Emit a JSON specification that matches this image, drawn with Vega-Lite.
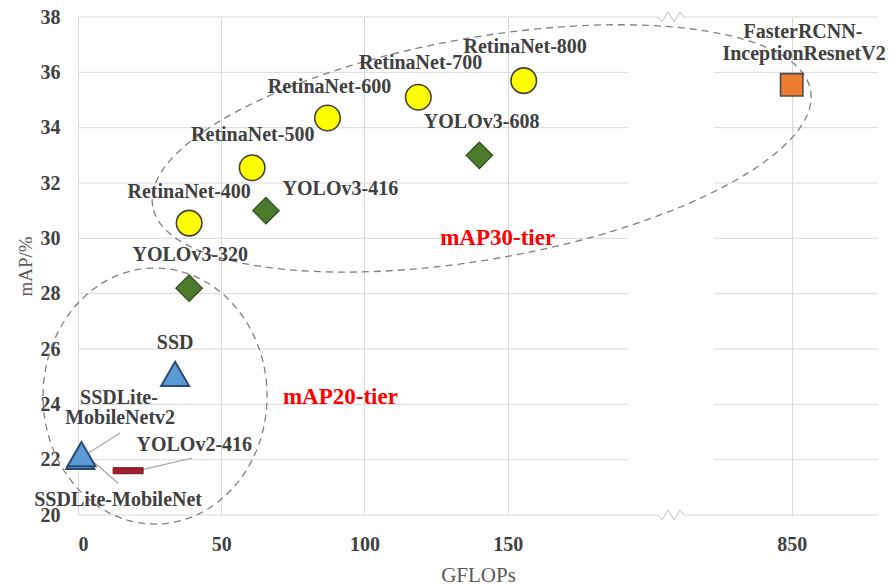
{
  "$schema": "https://vega.github.io/schema/vega-lite/v6.json",
  "width": 800,
  "height": 498,
  "autosize": {"type": "none"},
  "padding": {"left": 78, "top": 17, "right": 11, "bottom": 70},
  "background": "white",
  "config": {"view": {"stroke": null}},
  "datasets": {
    "points": [
      {"model": "RetinaNet-400", "family": "RetinaNet", "gflops": 38.8, "map": 30.55},
      {"model": "RetinaNet-500", "family": "RetinaNet", "gflops": 60.8, "map": 32.55},
      {"model": "RetinaNet-600", "family": "RetinaNet", "gflops": 87.1, "map": 34.35},
      {"model": "RetinaNet-700", "family": "RetinaNet", "gflops": 118.8, "map": 35.1},
      {"model": "RetinaNet-800", "family": "RetinaNet", "gflops": 155.6, "map": 35.7},
      {"model": "YOLOv3-320", "family": "YOLOv3", "gflops": 38.8, "map": 28.2},
      {"model": "YOLOv3-416", "family": "YOLOv3", "gflops": 65.6, "map": 31.0},
      {"model": "YOLOv3-608", "family": "YOLOv3", "gflops": 140.1, "map": 33.0},
      {"model": "SSD", "family": "SSD", "gflops": 33.9, "map": 25.1},
      {"model": "SSDLite-MobileNetv2", "family": "SSD", "gflops": 0.8, "map": 22.1},
      {"model": "SSDLite-MobileNet", "family": "SSD", "gflops": 1.2, "map": 22.2},
      {"model": "YOLOv2-416", "family": "YOLOv2", "gflops": 17.5, "map": 21.6},
      {"model": "FasterRCNN-InceptionResnetV2", "family": "FasterRCNN", "gflops": 850, "map": 35.55}
    ],
    "labels": [
      {"text": "RetinaNet-400", "kind": "model", "x": 38.8, "y": 31.66},
      {"text": "RetinaNet-500", "kind": "model", "x": 61.0, "y": 33.72},
      {"text": "RetinaNet-600", "kind": "model", "x": 87.8, "y": 35.46},
      {"text": "RetinaNet-700", "kind": "model", "x": 119.6, "y": 36.33},
      {"text": "RetinaNet-800", "kind": "model", "x": 156.1, "y": 36.91},
      {"text": "YOLOv3-320", "kind": "model", "x": 39.2, "y": 29.38},
      {"text": "YOLOv3-416", "kind": "model", "x": 91.6, "y": 31.8},
      {"text": "YOLOv3-608", "kind": "model", "x": 140.9, "y": 34.2},
      {"text": "SSD", "kind": "model", "x": 33.9, "y": 26.22},
      {"text": "SSDLite-", "kind": "model", "x": 14.3, "y": 24.23},
      {"text": "MobileNetv2", "kind": "model", "x": 14.7, "y": 23.51},
      {"text": "YOLOv2-416", "kind": "model", "x": 40.6, "y": 22.53},
      {"text": "SSDLite-MobileNet", "kind": "model", "x": 14.0, "y": 20.55},
      {"text": "FasterRCNN-", "kind": "model", "x": 853.9, "y": 37.46},
      {"text": "InceptionResnetV2", "kind": "model", "x": 854.3, "y": 36.66},
      {"text": "mAP30-tier", "kind": "tier", "x": 146.5, "y": 30.03},
      {"text": "mAP20-tier", "kind": "tier", "x": 91.6, "y": 24.27}
    ],
    "grid": [
      {"y": 20, "xa": 0, "xb": 412.1}, {"y": 20, "xa": 602.9, "xb": 880},
      {"y": 22, "xa": 0, "xb": 192}, {"y": 22, "xa": 823, "xb": 880},
      {"y": 24, "xa": 0, "xb": 192}, {"y": 24, "xa": 823, "xb": 880},
      {"y": 26, "xa": 0, "xb": 192}, {"y": 26, "xa": 823, "xb": 880},
      {"y": 28, "xa": 0, "xb": 192}, {"y": 28, "xa": 823, "xb": 880},
      {"y": 30, "xa": 0, "xb": 192}, {"y": 30, "xa": 823, "xb": 880},
      {"y": 32, "xa": 0, "xb": 192}, {"y": 32, "xa": 823, "xb": 880},
      {"y": 34, "xa": 0, "xb": 192}, {"y": 34, "xa": 823, "xb": 880},
      {"y": 36, "xa": 0, "xb": 192}, {"y": 36, "xa": 823, "xb": 880},
      {"y": 38, "xa": 0, "xb": 412.1}, {"y": 38, "xa": 602.9, "xb": 880}
    ],
    "zigzag": [
      {"g": "bottom", "x": 412.1, "y": 20}, {"g": "bottom", "x": 441.5, "y": 19.82},
      {"g": "bottom", "x": 485.5, "y": 20.18}, {"g": "bottom", "x": 529.5, "y": 19.82},
      {"g": "bottom", "x": 573.5, "y": 20.18}, {"g": "bottom", "x": 602.9, "y": 20},
      {"g": "top", "x": 412.1, "y": 38}, {"g": "top", "x": 441.5, "y": 37.82},
      {"g": "top", "x": 485.5, "y": 38.18}, {"g": "top", "x": 529.5, "y": 37.82},
      {"g": "top", "x": 573.5, "y": 38.18}, {"g": "top", "x": 602.9, "y": 38}
    ],
    "leaders": [
      {"x": 14.7, "y": 22.96, "x2": 2.4, "y2": 22.16},
      {"x": 14.0, "y": 21.15, "x2": 3.1, "y2": 22.13},
      {"x": 39.9, "y": 22.06, "x2": 21.7, "y2": 21.62}
    ],
    "ellipses": [
      {"tier": "mAP30", "cx": 140.9, "cy": 33.25},
      {"tier": "mAP20", "cx": 26.9, "cy": 24.3}
    ]
  },
  "encoding": {
    "x": {
      "type": "quantitative",
      "scale": {"domain": [0, 192, 823, 880], "range": [0, 550, 636, 800], "zero": false, "nice": false},
      "axis": {
        "title": "GFLOPs", "values": [0, 50, 100, 150, 850],
        "grid": true, "gridColor": "#d9d9d9", "domain": false, "ticks": false,
        "labelFont": "Liberation Serif", "labelFontWeight": "bold", "labelFontSize": 20, "labelColor": "#404040", "labelPadding": 19,
        "titleFont": "Liberation Serif", "titleFontWeight": "normal", "titleFontSize": 21, "titleColor": "#595959", "titlePadding": 10
      }
    },
    "y": {
      "type": "quantitative",
      "scale": {"domain": [20, 38], "zero": false, "nice": false},
      "axis": {
        "title": "mAP/%", "values": [20, 22, 24, 26, 28, 30, 32, 34, 36, 38],
        "grid": false, "domain": false, "ticks": false,
        "labelFont": "Liberation Serif", "labelFontWeight": "bold", "labelFontSize": 20, "labelColor": "#404040", "labelPadding": 18,
        "titleFont": "Liberation Serif", "titleFontWeight": "normal", "titleFontSize": 19, "titleColor": "#595959", "titlePadding": 5
      }
    }
  },
  "layer": [
    {
      "data": {"name": "grid"},
      "mark": {"type": "rule", "color": "#d9d9d9", "strokeWidth": 1},
      "encoding": {"x": {"field": "xa"}, "x2": {"field": "xb"}, "y": {"field": "y"}}
    },
    {
      "data": {"name": "zigzag"},
      "mark": {"type": "line", "color": "#bfbfbf", "strokeWidth": 1},
      "encoding": {"x": {"field": "x"}, "y": {"field": "y"}, "detail": {"field": "g"}}
    },
    {
      "data": {"name": "ellipses"},
      "transform": [{"filter": "datum.tier === 'mAP30'"}],
      "mark": {"type": "point", "shape": "M-1,0A1,0.332 0 1,1 1,0A1,0.332 0 1,1 -1,0Z", "size": 446224, "angle": 350, "filled": false, "stroke": "#808080", "strokeWidth": 1.3, "strokeDash": [7, 5], "opacity": 1},
      "encoding": {"x": {"field": "cx"}, "y": {"field": "cy"}}
    },
    {
      "data": {"name": "ellipses"},
      "transform": [{"filter": "datum.tier === 'mAP20'"}],
      "mark": {"type": "point", "shape": "M-1,0A1,1.143 0 1,1 1,0A1,1.143 0 1,1 -1,0Z", "size": 50176, "filled": false, "stroke": "#808080", "strokeWidth": 1.3, "strokeDash": [7, 5], "opacity": 1},
      "encoding": {"x": {"field": "cx"}, "y": {"field": "cy"}}
    },
    {
      "data": {"name": "leaders"},
      "mark": {"type": "rule", "color": "#a6a6a6", "strokeWidth": 1.2},
      "encoding": {"x": {"field": "x"}, "y": {"field": "y"}, "x2": {"field": "x2"}, "y2": {"field": "y2"}}
    },
    {
      "data": {"name": "points"},
      "transform": [{"filter": "datum.family === 'RetinaNet'"}],
      "mark": {"type": "point", "shape": "circle", "size": 650, "filled": true, "fill": "#ffff00", "stroke": "#404040", "strokeWidth": 1.6, "opacity": 1},
      "encoding": {"x": {"field": "gflops"}, "y": {"field": "map"}}
    },
    {
      "data": {"name": "points"},
      "transform": [{"filter": "datum.family === 'YOLOv3'"}],
      "mark": {"type": "point", "shape": "diamond", "size": 700, "filled": true, "fill": "#4e7a2e", "stroke": "#2f4a1c", "strokeWidth": 1.2, "opacity": 1},
      "encoding": {"x": {"field": "gflops"}, "y": {"field": "map"}}
    },
    {
      "data": {"name": "points"},
      "transform": [{"filter": "datum.family === 'SSD'"}],
      "mark": {"type": "point", "shape": "triangle-up", "size": 784, "filled": true, "fill": "#5b9bd5", "stroke": "#2c4a73", "strokeWidth": 2, "opacity": 1},
      "encoding": {"x": {"field": "gflops"}, "y": {"field": "map"}}
    },
    {
      "data": {"name": "points"},
      "transform": [{"filter": "datum.family === 'YOLOv2'"}],
      "mark": {"type": "point", "shape": "M-1,-0.2H1V0.2H-1Z", "size": 900, "filled": true, "fill": "#a31d2e", "stroke": "#6b1520", "strokeWidth": 1, "opacity": 1},
      "encoding": {"x": {"field": "gflops"}, "y": {"field": "map"}}
    },
    {
      "data": {"name": "points"},
      "transform": [{"filter": "datum.family === 'FasterRCNN'"}],
      "mark": {"type": "point", "shape": "square", "size": 500, "filled": true, "fill": "#ed7d31", "stroke": "#4d4d4d", "strokeWidth": 1.6, "opacity": 1},
      "encoding": {"x": {"field": "gflops"}, "y": {"field": "map"}}
    },
    {
      "data": {"name": "labels"},
      "transform": [{"filter": "datum.kind === 'model'"}],
      "mark": {"type": "text", "font": "Liberation Serif", "fontWeight": "bold", "fontSize": 20, "color": "#404040", "align": "center", "baseline": "middle"},
      "encoding": {"x": {"field": "x"}, "y": {"field": "y"}, "text": {"field": "text"}}
    },
    {
      "data": {"name": "labels"},
      "transform": [{"filter": "datum.kind === 'tier'"}],
      "mark": {"type": "text", "font": "Liberation Serif", "fontWeight": "bold", "fontSize": 23, "color": "#ff0000", "align": "center", "baseline": "middle"},
      "encoding": {"x": {"field": "x"}, "y": {"field": "y"}, "text": {"field": "text"}}
    }
  ]
}
